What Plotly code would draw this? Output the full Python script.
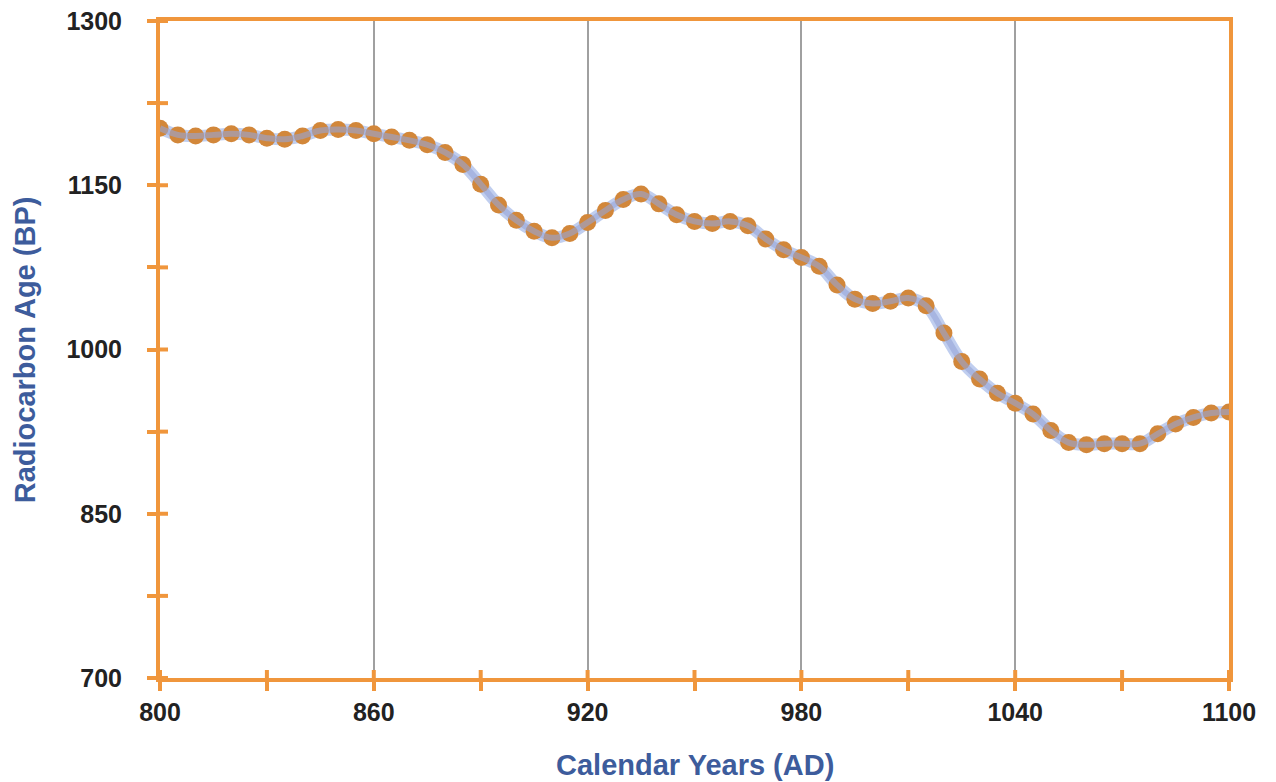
import plotly.graph_objects as go

years = list(range(800, 1101, 5))
c14_age = [1202, 1196, 1195, 1196, 1197, 1196, 1193, 1192, 1195, 1200,
           1201, 1200, 1197, 1194, 1191, 1187, 1180, 1169, 1151, 1132,
           1118, 1108, 1102, 1106, 1116, 1127, 1137, 1142, 1133, 1123,
           1117, 1115, 1117, 1113, 1101, 1091, 1084, 1076, 1059, 1046,
           1042, 1044, 1047, 1040, 1015, 989, 973, 960, 951, 941,
           926, 915, 913, 914, 914, 914, 923, 932, 938, 942, 943]

x_ticks = [800, 860, 920, 980, 1040, 1100]
y_ticks = [700, 850, 1000, 1150, 1300]
x_minor_step = 30
y_minor_step = 75

ORANGE = "#F0963C"
DOT = "#D2873A"
BLUE = "#3D5C9C"
FONT = "Liberation Sans, Arial, sans-serif"

fig = go.Figure()
fig.add_trace(go.Scatter(x=years, y=c14_age, mode="lines",
                         line=dict(color="rgba(165,185,232,0.7)", width=12, shape="spline", smoothing=1.1),
                         showlegend=False, hoverinfo="skip"))
fig.add_trace(go.Scatter(x=years, y=c14_age, mode="markers",
                         marker=dict(size=17, color=DOT, line=dict(width=0)),
                         showlegend=False, hoverinfo="skip"))
fig.add_trace(go.Scatter(x=years, y=c14_age, mode="lines",
                         line=dict(color="rgba(150,165,215,0.6)", width=6, shape="spline", smoothing=1.1),
                         showlegend=False))

tickfont = dict(family=FONT, size=25, color="#222222")

# inner halves of the crossing tick marks
shapes = []
for v in range(x_ticks[0], x_ticks[-1] + 1, x_minor_step):
    shapes.append(dict(type="line", xref="x", yref="paper", ysizemode="pixel", yanchor=0,
                       x0=v, x1=v, y0=0, y1=8, line=dict(color=ORANGE, width=4), layer="above"))
for v in range(y_ticks[0], y_ticks[-1] + 1, y_minor_step):
    shapes.append(dict(type="line", xref="paper", yref="y", xsizemode="pixel", xanchor=0,
                       x0=0, x1=8, y0=v, y1=v, line=dict(color=ORANGE, width=4), layer="above"))

fig.update_layout(
    width=1268, height=774,
    margin=dict(l=152, r=47, t=13, b=104),
    paper_bgcolor="white", plot_bgcolor="white",
    font=dict(family=FONT),
    shapes=shapes,
    xaxis=dict(range=[800, 1100], tickvals=x_ticks, ticktext=["<b>%d</b>" % v for v in x_ticks],
               showgrid=True, gridcolor="#A0A0A0", gridwidth=1.5, automargin=False,
               showline=True, linecolor=ORANGE, linewidth=4, mirror=True,
               ticks="outside", ticklen=9, tickwidth=4, tickcolor=ORANGE,
               minor=dict(dtick=x_minor_step, tick0=800, ticks="outside", ticklen=9, tickwidth=4,
                          tickcolor=ORANGE, showgrid=False),
               tickfont=tickfont, ticklabelstandoff=0, ticklabeloverflow="allow", zeroline=False),
    yaxis=dict(range=[700, 1300], tickvals=y_ticks, ticktext=["<b>%d</b>" % v for v in y_ticks],
               showgrid=False, automargin=False,
               showline=True, linecolor=ORANGE, linewidth=4, mirror=True,
               ticks="outside", ticklen=9, tickwidth=4, tickcolor=ORANGE,
               minor=dict(dtick=y_minor_step, tick0=700, ticks="outside", ticklen=9, tickwidth=4,
                          tickcolor=ORANGE, showgrid=False),
               tickfont=tickfont, ticklabelstandoff=20, ticklabeloverflow="allow", zeroline=False),
    annotations=[
        dict(text="<b>Calendar Years (AD)</b>", xref="paper", yref="paper",
             x=0.5, y=-0.133, xanchor="center", yanchor="middle", showarrow=False,
             font=dict(family=FONT, size=29, color=BLUE)),
        dict(text="<b>Radiocarbon Age (BP)</b>", xref="paper", yref="paper",
             x=-0.1265, y=0.5, xanchor="center", yanchor="middle", showarrow=False,
             textangle=-90, font=dict(family=FONT, size=29, color=BLUE)),
    ],
)

fig.write_html("out.html")
